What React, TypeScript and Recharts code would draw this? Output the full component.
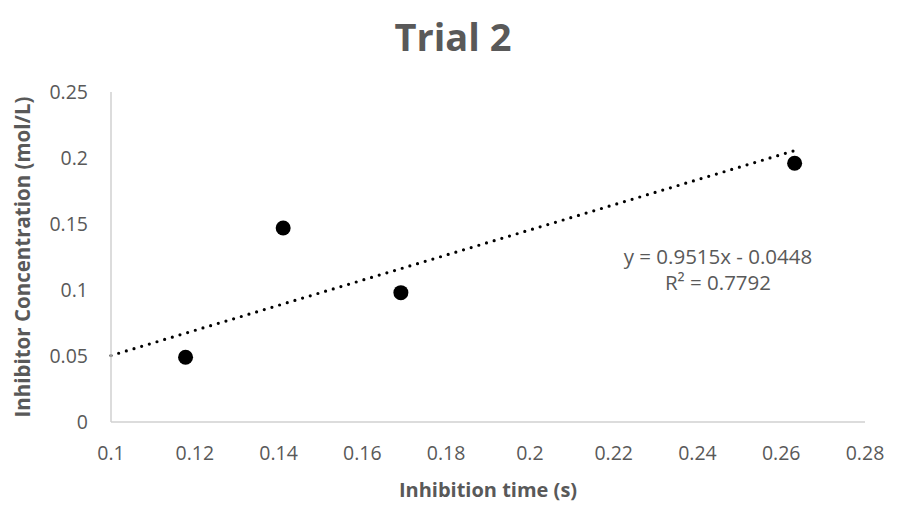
import {
  ScatterChart,
  Scatter,
  XAxis,
  YAxis,
  ReferenceLine,
  ReferenceDot,
} from 'recharts';

// measured points (inhibition time vs concentration)
const times = [0.1178, 0.1411, 0.1692, 0.2632];
const concentrations = [0.049, 0.147, 0.098, 0.196];

const xTicks = [0.1, 0.12, 0.14, 0.16, 0.18, 0.2, 0.22, 0.24, 0.26, 0.28];
const yTicks = [0, 0.05, 0.1, 0.15, 0.2, 0.25];

// linear trendline as reported on the chart
const slope = 0.9515;
const intercept = -0.0448;
const rSquared = 0.7792;
const trendStart = 0.1;

const textColor = '#595959';
const font = '"Open Sans", "Noto Sans", sans-serif';

const points = times.map((t, i) => ({ x: t, y: concentrations[i] }));
const trendEnd = Math.max(...times);

const Dot = (props: any) => <circle cx={props.cx} cy={props.cy} r={7.5} fill="#000" />;

export default function App() {
  return (
    <div style={{ position: 'absolute', left: 0, top: 0, width: 906, height: 505, background: '#fff' }}>
      <div
        style={{
          position: 'absolute',
          left: 0,
          top: 14,
          width: 906,
          textAlign: 'center',
          fontFamily: font,
          fontWeight: 700,
          fontSize: 38,
          color: textColor,
          lineHeight: '44px',
        }}
      >
        Trial 2
      </div>
      <ScatterChart width={906} height={505} margin={{ top: 92, right: 41, bottom: 0, left: 0 }}>
        <XAxis
          type="number"
          dataKey="x"
          domain={[0.1, 0.28]}
          ticks={xTicks}
          allowDataOverflow
          height={83}
          tickLine={false}
          tickSize={0}
          tickMargin={24}
          axisLine={{ stroke: '#d0d0d0', strokeWidth: 1.5 }}
          tick={{ fill: textColor, fontSize: 19.5, fontFamily: font }}
          label={{
            content: ({ viewBox }: any) => (
              <text
                x={viewBox.x + viewBox.width / 2}
                y={viewBox.y + 67}
                textAnchor="middle"
                dominantBaseline="central"
                fill={textColor}
                fontFamily={font}
                fontWeight={700}
                fontSize={20}
              >
                Inhibition time (s)
              </text>
            ),
          }}
        />
        <YAxis
          type="number"
          dataKey="y"
          domain={[0, 0.25]}
          ticks={yTicks}
          allowDataOverflow
          width={111}
          tickLine={false}
          tickSize={0}
          tickMargin={23}
          axisLine={{ stroke: '#d0d0d0', strokeWidth: 1.5 }}
          tick={{ fill: textColor, fontSize: 19.5, fontFamily: font }}
          label={{
            content: ({ viewBox }: any) => {
              const cx = viewBox.x + 22;
              const cy = viewBox.y + viewBox.height / 2;
              return (
                <text
                  x={cx}
                  y={cy}
                  transform={`rotate(-90 ${cx} ${cy})`}
                  textAnchor="middle"
                  dominantBaseline="central"
                  fill={textColor}
                  fontFamily={font}
                  fontWeight={700}
                  fontSize={20.5}
                >
                  Inhibitor Concentration (mol/L)
                </text>
              );
            },
          }}
        />
        <ReferenceLine
          segment={[
            { x: trendStart, y: slope * trendStart + intercept },
            { x: trendEnd, y: slope * trendEnd + intercept },
          ]}
          stroke="#000"
          strokeWidth={3.2}
          strokeDasharray="0 8"
          strokeLinecap="round"
          ifOverflow="visible"
        />
        <Scatter data={points} shape={Dot} isAnimationActive={false} />
        <ReferenceDot
          x={0.2449}
          y={0.116}
          r={0}
          ifOverflow="visible"
          label={{
            content: ({ viewBox }: any) => {
              const cx = viewBox.x + (viewBox.width || 0) / 2;
              const cy = viewBox.y + (viewBox.height || 0) / 2;
              return (
                <text textAnchor="middle" fill={textColor} fontFamily={font} fontSize={20.5}>
                  <tspan x={cx} y={cy - 13} dominantBaseline="central">
                    {`y = ${slope}x - ${Math.abs(intercept)}`}
                  </tspan>
                  <tspan x={cx} y={cy + 13} dominantBaseline="central">
                    {`R² = ${rSquared}`}
                  </tspan>
                </text>
              );
            },
          }}
        />
      </ScatterChart>
    </div>
  );
}
